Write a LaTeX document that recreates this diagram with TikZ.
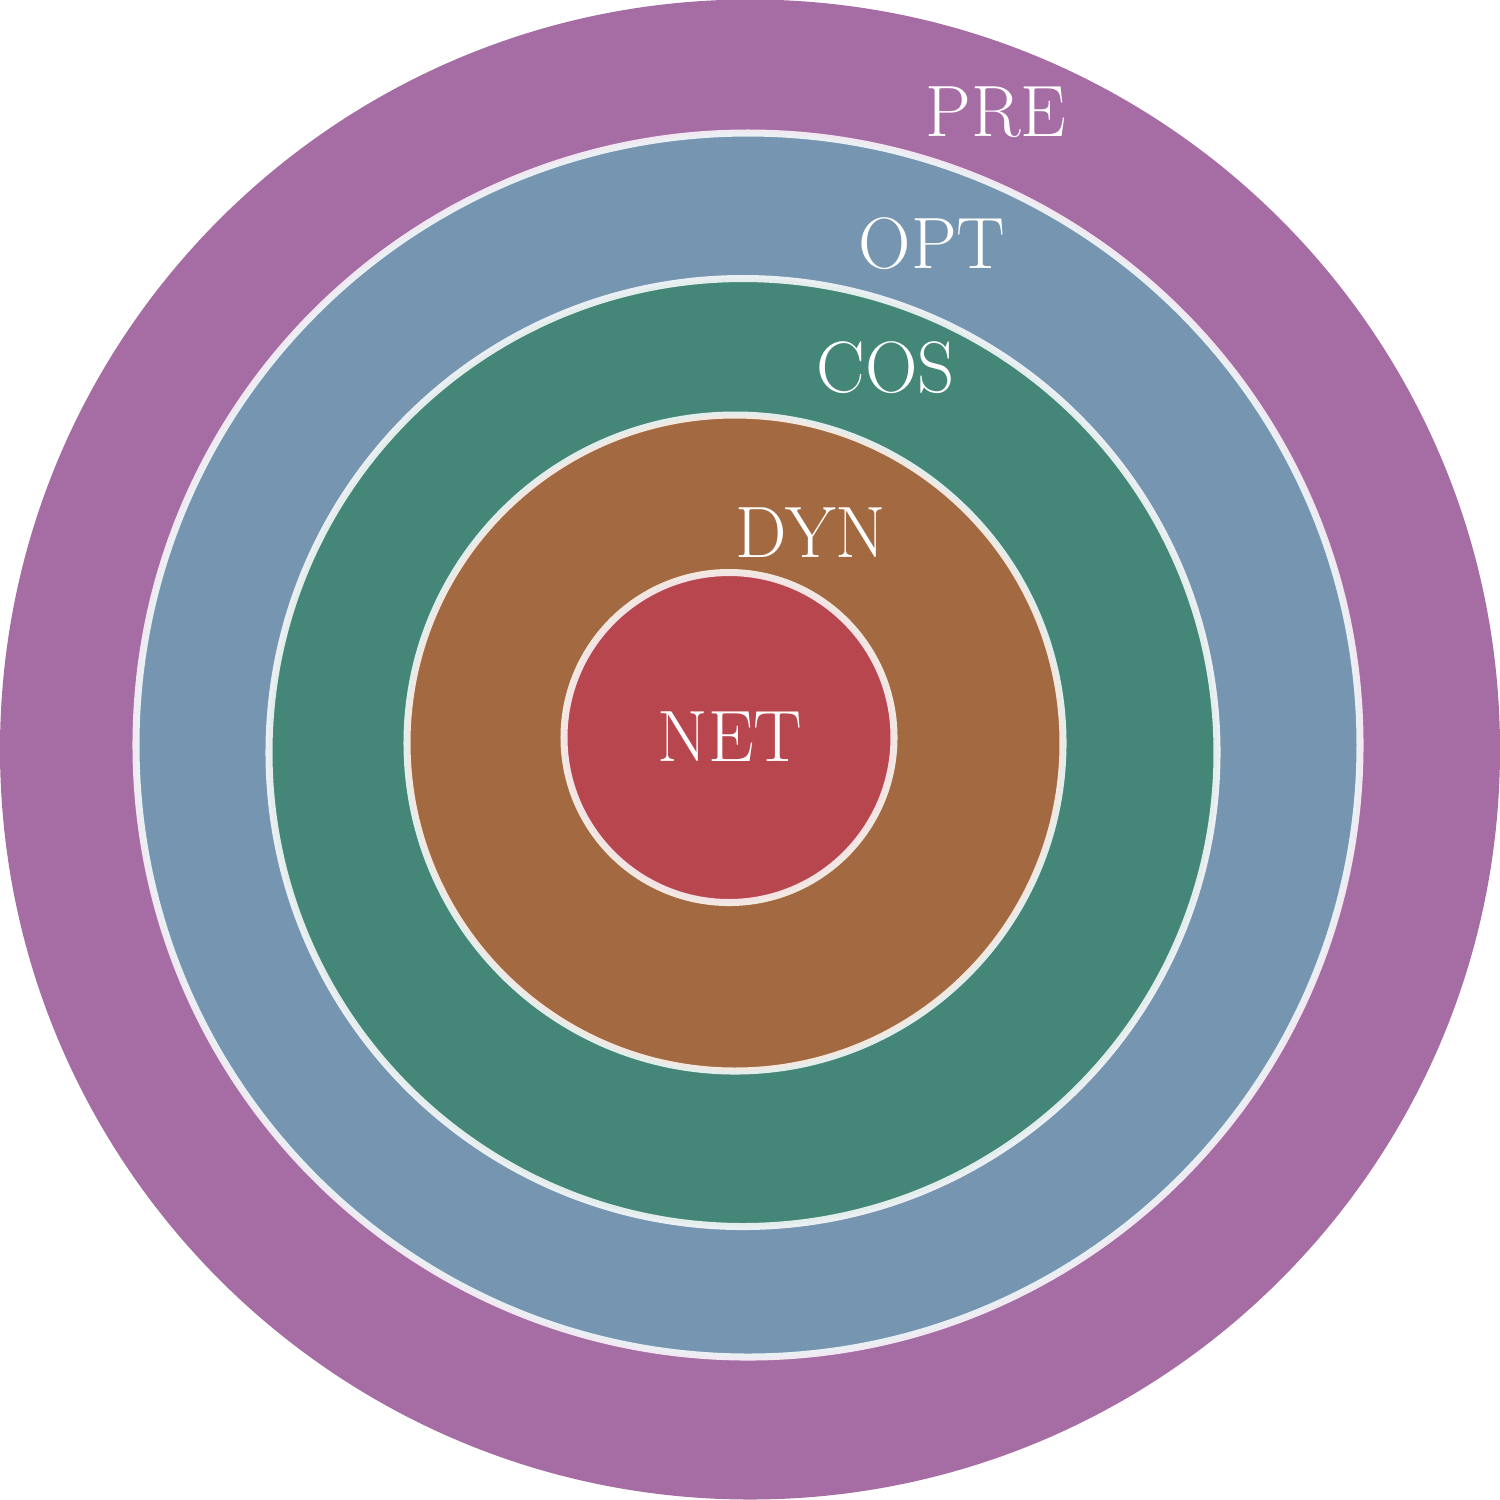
\documentclass[tikz,border=0pt]{standalone}
\usepackage{tikz}
\definecolor{prec}{HTML}{A66DA5}
\definecolor{optc}{HTML}{7695B0}
\definecolor{cosc}{HTML}{448779}
\definecolor{dync}{HTML}{A36941}
\definecolor{netc}{HTML}{B8464F}
\tikzset{ring/.style={draw=white, draw opacity=0.85, line width=2pt},
  lbl/.style={text=white, font=\fontsize{20.7}{24}\selectfont}}
\begin{document}
\begin{tikzpicture}[x=0.01cm,y=-0.01cm]
\useasboundingbox (0,0) rectangle (1500,1499);
\fill[prec] (750,749.5) circle (750);
\filldraw[ring, fill=optc] (748,745) circle (612);
\filldraw[ring, fill=cosc] (743,752.5) circle (474);
\filldraw[ring, fill=dync] (735,743) circle (328);
\filldraw[ring, fill=netc] (729,737.5) circle (165);
\node[lbl] (pre) at (996,112) {PRE};
\node[lbl] (opt) at (932,244) {OPT};
\node[lbl] (cos) at (886,368) {COS};
\node[lbl] (dyn) at (811,533) {DYN};
\node[lbl] (net) at (730,737) {NET};
\end{tikzpicture}
\end{document}
